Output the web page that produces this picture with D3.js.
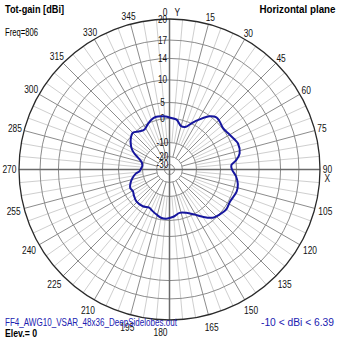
<!DOCTYPE html>
<html><head><meta charset="utf-8">
<script src="https://cdn.jsdelivr.net/npm/d3@7"></script>
<style>
html,body{margin:0;padding:0;background:#fff;}
text{font-family:"Liberation Sans",Arial,sans-serif;}
</style></head>
<body>
<svg id="c" width="339" height="339"></svg>
<script>
// ---- data ----
const ringValues = [-30, -20, -10, 0, 5, 10, 14, 17, 20];          // dBi tick labels (radial)
const ringRadiusFrac = [0.033, 0.086, 0.179, 0.339, 0.445, 0.595, 0.738, 0.86, 1]; // grid scale (log-like)
const angleTicks = [0,15,30,45,60,75,90,105,120,135,150,165,180,195,210,225,240,255,270,285,300,315,330,345];
const patternAngles = [0,8,15,21,26,31,37,42,46,52,58,65,69,77,82,86,90,96,102,108,114,118,125,132,138,145,151,159,167,174,179,184,190,196,202,208,216,226,234,239,245,251,257,263,267,272,277,282,286,291,294,297,301,308,315,322,328,334,340,345,351,356];
const patternGain = [0.31,-0.25,-2.54,-2.17,0.31,2.34,4.88,5.69,5.56,5.16,5.42,6.02,6.39,6.11,5.09,3.44,3.59,5.0,5.64,5.82,5.51,5.33,5.53,5.07,4.34,2.12,0.16,-1.92,-2.71,-1.67,-1.13,-0.67,-0.83,-1.71,-2.54,-3.25,-2.33,-2.08,-2.9,-3.5,-3.17,-4.08,-5.42,-7.08,-8.75,-9.38,-9.79,-9.58,-8.96,-7.08,-5.42,-3.96,-2.58,-0.75,0.28,-1.04,-1.58,-0.42,0.63,1.03,0.94,0.63];
const titleText = "Tot-gain [dBi]";
const freqText = "Freq=806";
const planeText = "Horizontal plane";
const fileText = "FF4_AWG10_VSAR_48x36_DeepSidelobes.out";
const elevText = "Elev.= 0";
const rangeText = "-10 < dBi < 6.39";

// ---- layout ----
const cx = 169.5, cy = 169.5, R = 150.5;
const svg = d3.select("#c");
svg.append("rect").attr("width",339).attr("height",339).attr("fill","#fff");
const r = d3.scaleLinear().domain(ringValues).range(ringRadiusFrac.map(f => f * R));
const g = svg.append("g").attr("transform", `translate(${cx},${cy})`);
const rad = d => d * Math.PI / 180;

// light radial lines every 5 deg
const fine = d3.range(0, 360, 5).filter(a => a % 15 !== 0);
g.selectAll("line.fine").data(fine).join("line")
  .attr("x1", a => r(-10) * Math.sin(rad(a))).attr("y1", a => -r(-10) * Math.cos(rad(a)))
  .attr("x2", a => R * Math.sin(rad(a))).attr("y2", a => -R * Math.cos(rad(a)))
  .attr("stroke", "#cfcfcf").attr("stroke-width", 1);
// rings
g.selectAll("circle.ring").data(ringValues.slice(0, -1)).join("circle")
  .attr("r", d => r(d)).attr("fill", "none").attr("stroke", "#8c8c8c").attr("stroke-width", 1);
// 15 deg lines
g.selectAll("line.major").data(angleTicks.filter(a => a % 90 !== 0)).join("line")
  .attr("x1", a => r(-20) * Math.sin(rad(a))).attr("y1", a => -r(-20) * Math.cos(rad(a)))
  .attr("x2", a => R * Math.sin(rad(a))).attr("y2", a => -R * Math.cos(rad(a)))
  .attr("stroke", "#8c8c8c").attr("stroke-width", 1);
// axes
g.append("line").attr("x1", -R).attr("x2", R).attr("y1", 0).attr("y2", 0).attr("stroke", "#6a6a6a").attr("stroke-width", 1.5);
g.append("line").attr("y1", -R).attr("y2", R).attr("x1", 0).attr("x2", 0).attr("stroke", "#6a6a6a").attr("stroke-width", 1.5);
// outer ring
g.append("circle").attr("r", R).attr("fill", "none").attr("stroke", "#2a2a2a").attr("stroke-width", 1.3);

// ring labels
g.selectAll("text.rl").data(ringValues).join("text")
  .attr("transform", d => `translate(-7,${-r(d) + 3.5}) scale(0.82,1)`)
  .attr("text-anchor", "middle").attr("font-size", 10).attr("fill", "#111")
  .text(d => d);

// pattern
const line = d3.lineRadial()
  .angle((d, i) => rad(patternAngles[i]))
  .radius(d => r(d))
  .curve(d3.curveCatmullRomClosed.alpha(0.5));
g.append("path").datum(patternGain).attr("d", line)
  .attr("fill", "none").attr("stroke", "#16169e").attr("stroke-width", 2);

// angle labels
const sx = 0.8;
angleTicks.forEach(a => {
  const t = String(a);
  const w = 4.4 * t.length;
  const s = Math.sin(rad(a)), c = Math.cos(rad(a));
  const off = 7 + 5 * Math.max(0, -c) + Math.abs(s) * (w / 2 - 4);
  let x = (R + off) * s, y = -(R + off) * c;
  let anchor = "middle";
  if (a === 0 || a === 180) { x = -2; anchor = "end"; }
  g.append("text").attr("transform", `translate(${x},${y + 3.6}) scale(${sx},1)`)
    .attr("text-anchor", anchor).attr("font-size", 10.5).attr("fill", "#111").text(t);
});
// axis names
g.append("text").attr("transform", `translate(5,${-(R + 7) + 3.6}) scale(${sx},1)`)
  .attr("font-size", 10.5).attr("fill", "#111").text("Y");
g.append("text").attr("transform", `translate(${R + 7 + 0.4},${8.5 + 3.6}) scale(${sx},1)`)
  .attr("text-anchor", "middle").attr("font-size", 10.5).attr("fill", "#111").text("X");

// header / footer texts
svg.append("text").attr("x", 5).attr("y", 13.3).attr("font-size", 11).attr("font-weight", "bold")
  .attr("textLength", 59).attr("lengthAdjust", "spacingAndGlyphs").text(titleText);
svg.append("text").attr("x", 5).attr("y", 35.5).attr("font-size", 10)
  .attr("textLength", 33).attr("lengthAdjust", "spacingAndGlyphs").text(freqText);
svg.append("text").attr("x", 335.5).attr("y", 13.3).attr("font-size", 10.5).attr("font-weight", "bold")
  .attr("text-anchor", "end").attr("textLength", 76).attr("lengthAdjust", "spacingAndGlyphs").text(planeText);
svg.append("text").attr("x", 5).attr("y", 326).attr("font-size", 10).attr("fill", "#2020b0")
  .attr("textLength", 172).attr("lengthAdjust", "spacingAndGlyphs").text(fileText);
svg.append("text").attr("x", 5).attr("y", 336.5).attr("font-size", 10.5).attr("font-weight", "bold")
  .attr("textLength", 32).attr("lengthAdjust", "spacingAndGlyphs").text(elevText);
svg.append("text").attr("x", 334).attr("y", 326).attr("font-size", 10).attr("fill", "#2020b0")
  .attr("text-anchor", "end").attr("textLength", 73).attr("lengthAdjust", "spacingAndGlyphs").text(rangeText);
</script>
</body></html>
